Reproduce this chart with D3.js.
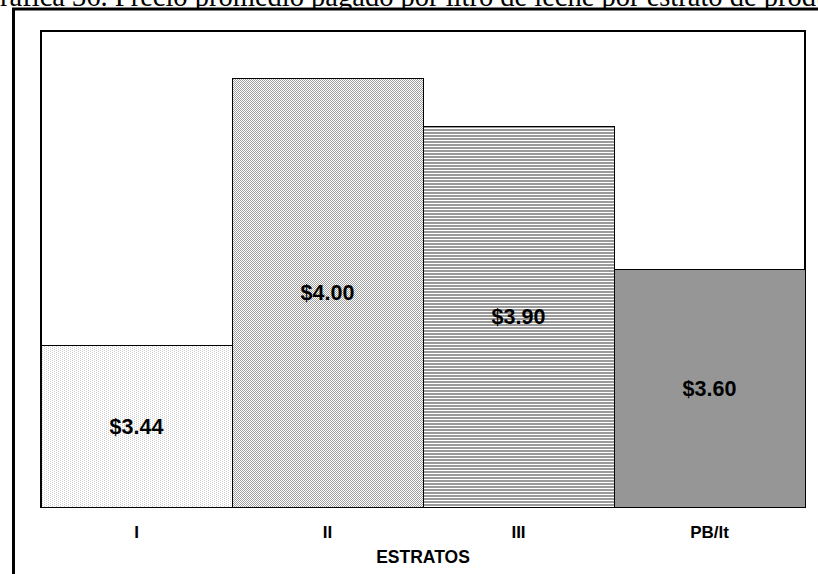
<!DOCTYPE html>
<html>
<head>
<meta charset="utf-8">
<script src="https://cdn.jsdelivr.net/npm/d3@7/dist/d3.min.js"></script>
<style>
  html, body { margin: 0; padding: 0; background: #fff; }
  svg { display: block; }
</style>
</head>
<body>
<svg id="chart" width="818" height="574"></svg>
<script>
// Average price paid per litre of milk, by producer stratum
const categories = ["I", "II", "III", "PB/lt"];
const prices = [3.44, 4.00, 3.90, 3.60];
const priceLabels = ["$3.44", "$4.00", "$3.90", "$3.60"];
const fills = ["url(#dotsLight)", "url(#dotsDense)", "url(#hStripes)", "#969696"];
const axisTitle = "ESTRATOS";
const chartTitle = "Gráfica 36. Precio promedio pagado por litro de leche por estrato de productor";

const W = 818, H = 574;
const plot = { left: 41, right: 805, top: 31, bottom: 507 };

const svg = d3.select("#chart");
const defs = svg.append("defs");

// light stipple
const p1 = defs.append("pattern").attr("id", "dotsLight")
  .attr("patternUnits", "userSpaceOnUse").attr("width", 4).attr("height", 2);
p1.append("rect").attr("width", 4).attr("height", 2).attr("fill", "#fff");
p1.append("rect").attr("x", 0).attr("y", 0).attr("width", 1).attr("height", 1).attr("fill", "#cdcdcd");
p1.append("rect").attr("x", 2).attr("y", 1).attr("width", 1).attr("height", 1).attr("fill", "#cdcdcd");

// dense checker
const p2 = defs.append("pattern").attr("id", "dotsDense")
  .attr("patternUnits", "userSpaceOnUse").attr("width", 2).attr("height", 2);
p2.append("rect").attr("width", 2).attr("height", 2).attr("fill", "#fff");
p2.append("rect").attr("x", 0).attr("y", 0).attr("width", 1).attr("height", 1).attr("fill", "#a0a0a0");
p2.append("rect").attr("x", 1).attr("y", 1).attr("width", 1).attr("height", 1).attr("fill", "#a0a0a0");

// horizontal stripes
const p3 = defs.append("pattern").attr("id", "hStripes")
  .attr("patternUnits", "userSpaceOnUse").attr("width", 4).attr("height", 3);
p3.append("rect").attr("width", 4).attr("height", 3).attr("fill", "#fff");
p3.append("rect").attr("x", 0).attr("y", 0).attr("width", 4).attr("height", 2).attr("fill", "#9a9a9a");

// caption band ends at the frame line
defs.append("clipPath").attr("id", "captionClip")
  .append("rect").attr("x", 0).attr("y", -40).attr("width", W).attr("height", 48);

svg.append("rect").attr("width", W).attr("height", H).attr("fill", "#fff");

// caption running above the frame (its upper part lies outside the page)
svg.append("text")
  .attr("clip-path", "url(#captionClip)")
  .attr("x", -20.5).attr("y", 6)
  .attr("font-family", "Liberation Serif, Times New Roman, serif")
  .attr("font-size", 28.5)
  .attr("fill", "#000")
  .text(chartTitle);

// outer frame
svg.append("path")
  .attr("d", `M13.5,${H} V9 H${W}`)
  .attr("fill", "none").attr("stroke", "#000").attr("stroke-width", 3);

const x = d3.scaleBand().domain(categories).range([plot.left, plot.right]).padding(0);
const y = d3.scaleLinear().domain([3.1, 4.1]).range([plot.bottom, plot.top]);

// plot area border
svg.append("rect")
  .attr("x", plot.left).attr("y", plot.top)
  .attr("width", plot.right - plot.left).attr("height", plot.bottom - plot.top)
  .attr("fill", "none").attr("stroke", "#000").attr("stroke-width", 2);

const data = categories.map((c, i) => ({ c, v: prices[i], label: priceLabels[i], fill: fills[i] }));

svg.append("g").selectAll("rect").data(data).join("rect")
  .attr("x", d => x(d.c))
  .attr("y", d => y(d.v))
  .attr("width", x.bandwidth())
  .attr("height", d => y(3.1) - y(d.v))
  .attr("fill", d => d.fill)
  .attr("stroke", "#000").attr("stroke-width", 1)
  .attr("shape-rendering", "crispEdges");

// value labels, centred in each bar
svg.append("g").selectAll("text").data(data).join("text")
  .attr("x", d => x(d.c) + x.bandwidth() / 2)
  .attr("y", d => (y(d.v) + y(3.1)) / 2)
  .attr("dy", "0.35em")
  .attr("text-anchor", "middle")
  .attr("font-family", "Liberation Sans, Arial, sans-serif")
  .attr("font-weight", "bold")
  .attr("font-size", 21.5)
  .attr("fill", "#000")
  .text(d => d.label);

// category axis (no line or ticks, just labels)
const xAxis = d3.axisBottom(x).tickSize(0).tickPadding(0);
const gx = svg.append("g").attr("transform", `translate(0,${plot.bottom + 25})`).call(xAxis);
gx.select(".domain").remove();
gx.selectAll("text")
  .attr("font-family", "Liberation Sans, Arial, sans-serif")
  .attr("font-weight", "bold")
  .attr("font-size", 17)
  .attr("fill", "#000")
  .attr("dy", "0.35em");

svg.append("text")
  .attr("x", (plot.left + plot.right) / 2).attr("y", 557)
  .attr("dy", "0.35em")
  .attr("text-anchor", "middle")
  .attr("font-family", "Liberation Sans, Arial, sans-serif")
  .attr("font-weight", "bold")
  .attr("font-size", 17.5)
  .attr("fill", "#000")
  .text(axisTitle);
</script>
</body>
</html>
